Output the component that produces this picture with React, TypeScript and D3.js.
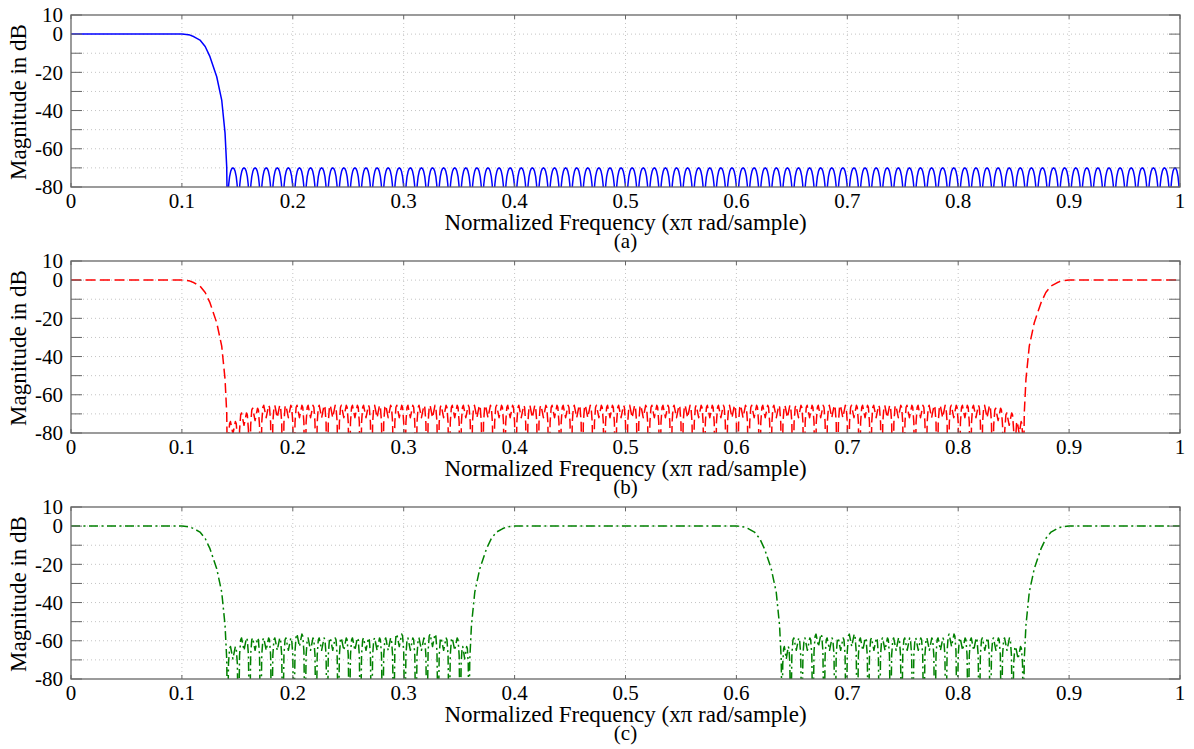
import React from "react";
import * as d3 from "d3";

// ---------- labels & ticks ----------
const xTicks = [0, 0.1, 0.2, 0.3, 0.4, 0.5, 0.6, 0.7, 0.8, 0.9, 1];
const xTickLabels = ["0", "0.1", "0.2", "0.3", "0.4", "0.5", "0.6", "0.7", "0.8", "0.9", "1"];
const yTicks = [10, 0, -10, -20, -30, -40, -50, -60, -70, -80];
const yTickLabels = ["10", "0", "", "-20", "", "-40", "", "-60", "", "-80"];
const panelCaptions = ["(a)", "(b)", "(c)"];
const xLabel = "Normalized Frequency (xπ rad/sample)";
const yLabel = "Magnitude in dB";

// ---------- passband + transition edge ----------
const edgeFreq = [0, 0.05, 0.1, 0.104, 0.1073, 0.111, 0.1163, 0.121, 0.1253, 0.1314, 0.1359, 0.1389, 0.1404, 0.141];
const edgeDb = [0, 0, 0, -0.15, -0.5, -1.4, -3.1, -6.5, -11.8, -22.3, -34.5, -51.8, -69.4, -95];

// ---------- stopband lobe nulls ----------
const aNulls = [
  0.141, 0.151, 0.161, 0.171, 0.181, 0.191, 0.201, 0.211, 0.221, 0.231,
  0.241, 0.251, 0.261, 0.271, 0.281, 0.291, 0.301, 0.311, 0.321, 0.331,
  0.341, 0.351, 0.361, 0.371, 0.381, 0.391, 0.401, 0.411, 0.421, 0.431,
  0.441, 0.451, 0.461, 0.471, 0.481, 0.491, 0.501, 0.511, 0.521, 0.531,
  0.541, 0.551, 0.561, 0.571, 0.581, 0.591, 0.601, 0.611, 0.621, 0.631,
  0.641, 0.651, 0.661, 0.671, 0.681, 0.691, 0.701, 0.711, 0.721, 0.731,
  0.741, 0.751, 0.761, 0.771, 0.781, 0.791, 0.801, 0.811, 0.821, 0.831,
  0.841, 0.851, 0.861, 0.871, 0.881, 0.891, 0.901, 0.911, 0.921, 0.931,
  0.941, 0.951, 0.961, 0.971, 0.981, 0.991, 1.0,
];
const bNulls = [
  0.141, 0.151, 0.161, 0.171, 0.181, 0.191, 0.201, 0.211, 0.221, 0.231,
  0.241, 0.251, 0.261, 0.271, 0.281, 0.291, 0.301, 0.311, 0.321, 0.331,
  0.341, 0.351, 0.361, 0.371, 0.381, 0.391, 0.401, 0.411, 0.421, 0.431,
  0.441, 0.451, 0.461, 0.471, 0.481, 0.491, 0.501, 0.511, 0.521, 0.531,
  0.541, 0.551, 0.561, 0.571, 0.581, 0.591, 0.601, 0.611, 0.621, 0.631,
  0.641, 0.651, 0.661, 0.671, 0.681, 0.691, 0.701, 0.711, 0.721, 0.731,
  0.741, 0.751, 0.761, 0.771, 0.781, 0.791, 0.801, 0.811, 0.821, 0.831,
  0.841, 0.851, 0.859,
];
const c1Nulls = [
  0.141, 0.151, 0.161, 0.171, 0.181, 0.191, 0.201, 0.211, 0.221, 0.231,
  0.241, 0.251, 0.261, 0.271, 0.281, 0.291, 0.301, 0.311, 0.321, 0.331,
  0.341, 0.351, 0.359,
];
const c2Nulls = [
  0.641, 0.649, 0.659, 0.669, 0.679, 0.689, 0.699, 0.709, 0.719, 0.729,
  0.739, 0.749, 0.759, 0.769, 0.779, 0.789, 0.799, 0.809, 0.819, 0.829,
  0.839, 0.849, 0.859,
];

// ---------- stopband levels ----------
const aPeakDb = -70;
const bPeakDb = -65.5;
const bEdgePeakDb = [-74, -69.5, -67];
const cPeakDb = -58.5;
const cEdgePeakDb = [-63];
const cBumpFreq = [0.209, 0.298, 0.328, 0.672, 0.702, 0.791];
const cBumpDb = -56.5;

// ---------- lobe profiles (relative to lobe peak) ----------
const lobeT = [0, 0.02, 0.06, 0.12, 0.2, 0.3, 0.4, 0.5, 0.6, 0.7, 0.8, 0.88, 0.94, 0.98, 1];
const lobeDb = [-60, -24, -14.5, -8.7, -4.6, -1.8, -0.4, 0, -0.4, -1.8, -4.6, -8.7, -14.5, -24, -60];
const twinT = [0, 0.04, 0.1, 0.2, 0.28, 0.5, 0.72, 0.8, 0.9, 0.96, 1];
const twinDb = [-70, -35, -9, -1, 0, -6.5, 0, -1, -9, -35, -70];

type Pt = [number, number];

function edge(map: (f: number) => number, reverse = false): Pt[] {
  const pts = edgeFreq.map((f, i) => [map(f), edgeDb[i]] as Pt);
  return reverse ? pts.reverse() : pts;
}

function lobes(nulls: number[], peak: (i: number, n: number, center: number) => number, tArr: number[], dbArr: number[]): Pt[] {
  const out: Pt[] = [];
  const n = nulls.length - 1;
  for (let i = 0; i < n; i++) {
    const f0 = nulls[i], f1 = nulls[i + 1];
    const P = peak(i, n, (f0 + f1) / 2);
    tArr.forEach((t, j) => {
      if (i > 0 && j === 0) return;
      out.push([f0 + t * (f1 - f0), P + dbArr[j]]);
    });
  }
  return out;
}

const bPeak = (i: number, n: number) => {
  if (i < bEdgePeakDb.length) return bEdgePeakDb[i];
  if (n - 1 - i < bEdgePeakDb.length) return bEdgePeakDb[n - 1 - i];
  return bPeakDb;
};
const cPeak = (i: number, n: number, center: number) => {
  if (cBumpFreq.some((f) => Math.abs(f - center) < 0.005)) return cBumpDb;
  if (i < cEdgePeakDb.length) return cEdgePeakDb[i];
  if (n - 1 - i < cEdgePeakDb.length) return cEdgePeakDb[n - 1 - i];
  return cPeakDb;
};

const seriesA: Pt[] = [...edge((f) => f), ...lobes(aNulls, () => aPeakDb, lobeT, lobeDb)];
const seriesB: Pt[] = [...edge((f) => f), ...lobes(bNulls, bPeak, twinT, twinDb), ...edge((f) => 1 - f, true)];
const seriesC: Pt[] = [
  ...edge((f) => f),
  ...lobes(c1Nulls, cPeak, twinT, twinDb),
  ...edge((f) => 0.5 - f, true),
  ...edge((f) => 0.5 + f),
  ...lobes(c2Nulls, cPeak, twinT, twinDb),
  ...edge((f) => 1 - f, true),
];

const panels = [
  { data: seriesA, color: "#0000ff", dash: "none" },
  { data: seriesB, color: "#ff0000", dash: "10,4.5" },
  { data: seriesC, color: "#008000", dash: "9,3.5,2,3.5" },
];

const W = 1194, HH = 749;
const L = 71, R = 1180, PH = 172;
const tops = [15, 261, 507];
const FONT = "Liberation Serif, Times New Roman, Times, DejaVu Serif, serif";
const txt: React.CSSProperties = { fontFamily: FONT, fontSize: 21 };

function Panel({ idx }: { idx: number }) {
  const top = tops[idx];
  const bottom = top + PH;
  const x = d3.scaleLinear().domain([0, 1]).range([L, R]);
  const y = d3.scaleLinear().domain([-80, 10]).range([bottom, top]);
  const line = d3.line<Pt>().x((d) => x(d[0])).y((d) => y(Math.max(d[1], -130)));
  const p = panels[idx];
  const clipId = `clip${idx}`;
  return (
    <g>
      <defs>
        <clipPath id={clipId}>
          <rect x={L} y={top} width={R - L} height={PH} />
        </clipPath>
      </defs>
      {xTicks.slice(1, -1).map((t) => (
        <line key={"gx" + t} x1={x(t)} x2={x(t)} y1={top} y2={bottom} stroke="#c4c4c4" strokeWidth={1} strokeDasharray="1,3" />
      ))}
      {yTicks.slice(1, -1).map((t) => (
        <line key={"gy" + t} x1={L} x2={R} y1={y(t)} y2={y(t)} stroke="#c4c4c4" strokeWidth={1} strokeDasharray="1,3" />
      ))}
      <path d={line(p.data) || ""} fill="none" stroke={p.color} strokeWidth={1.5} strokeDasharray={p.dash} clipPath={`url(#${clipId})`} strokeLinejoin="round" />
      {yTicks.map((t) => (
        <g key={"ty" + t}>
          <line x1={L} x2={L + 11} y1={y(t)} y2={y(t)} stroke="#666" strokeWidth={1} />
          <line x1={R} x2={R - 11} y1={y(t)} y2={y(t)} stroke="#666" strokeWidth={1} />
        </g>
      ))}
      {xTicks.map((t) => (
        <g key={"tx" + t}>
          <line x1={x(t)} x2={x(t)} y1={bottom} y2={bottom - 4} stroke="#666" strokeWidth={1} />
          <line x1={x(t)} x2={x(t)} y1={top} y2={top + 4} stroke="#666" strokeWidth={1} />
        </g>
      ))}
      <rect x={L} y={top} width={R - L} height={PH} fill="none" stroke="#666" strokeWidth={1.3} />
      {yTicks.map((t, i) =>
        yTickLabels[i] ? (
          <text key={"ly" + t} x={L - 8} y={y(t)} dy="0.35em" textAnchor="end" style={{ ...txt, fontSize: 21 }} fill="#000">
            {yTickLabels[i]}
          </text>
        ) : null
      )}
      {xTicks.map((t, i) => (
        <text key={"lx" + t} x={x(t)} y={bottom + 21} textAnchor="middle" style={{ ...txt, fontSize: 21 }} fill="#000">
          {xTickLabels[i]}
        </text>
      ))}
      <text x={(L + R) / 2} y={bottom + 42.5} textAnchor="middle" style={{ ...txt, fontSize: 23 }} fill="#000">
        {xLabel}
      </text>
      <text x={(L + R) / 2} y={bottom + 60.5} textAnchor="middle" style={{ ...txt, fontSize: 21 }} fill="#000">
        {panelCaptions[idx]}
      </text>
      <text transform={`translate(26,${(top + bottom) / 2 + 1}) rotate(-90)`} textAnchor="middle" style={{ ...txt, fontSize: 23 }} fill="#000">
        {yLabel}
      </text>
    </g>
  );
}

export default function App() {
  return (
    <svg width={W} height={HH} style={{ position: "absolute", left: 0, top: 0, background: "#fff" }}>
      <rect x={0} y={0} width={W} height={HH} fill="#fff" />
      {panels.map((_, i) => (
        <Panel key={i} idx={i} />
      ))}
    </svg>
  );
}
